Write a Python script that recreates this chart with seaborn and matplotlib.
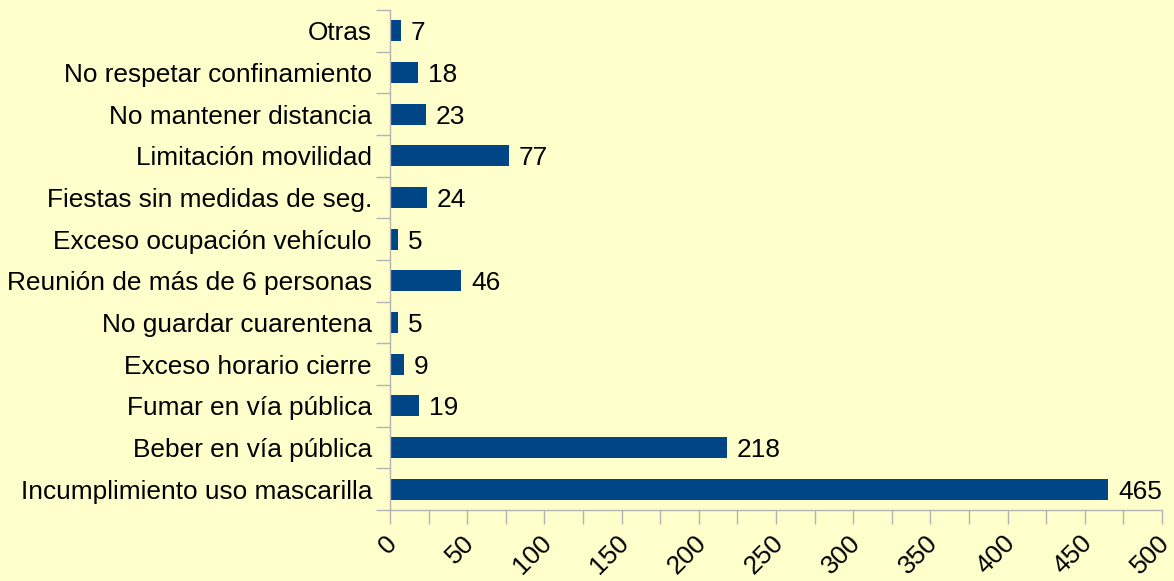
import matplotlib
matplotlib.use("Agg")
import matplotlib.pyplot as plt
import seaborn as sns
import pandas as pd
import numpy as np
from matplotlib.ticker import MultipleLocator, FixedLocator
from matplotlib.transforms import ScaledTranslation

categories = ["Otras", "No respetar confinamiento", "No mantener distancia",
              "Limitación movilidad", "Fiestas sin medidas de seg.",
              "Exceso ocupación vehículo", "Reunión de más de 6 personas",
              "No guardar cuarentena", "Exceso horario cierre",
              "Fumar en vía pública", "Beber en vía pública",
              "Incumplimiento uso mascarilla"]
values = [7, 18, 23, 77, 24, 5, 46, 5, 9, 19, 218, 465]
x_ticks = [0, 50, 100, 150, 200, 250, 300, 350, 400, 450, 500]

df = pd.DataFrame({"cat": categories, "val": values})

sns.set_theme(style="white")
plt.rcParams['font.family'] = ['Liberation Sans', 'DejaVu Sans']

bg = "#FFFFCC"
bar_color = "#004586"
axis_color = "#B3B3B3"
fs = 18.9

fig = plt.figure(figsize=(11.74, 5.81), dpi=100, facecolor=bg)
ax = fig.add_axes([390/1174, 1-510/581, 772/1174, 500/581])
ax.set_facecolor(bg)

sns.barplot(data=df, x="val", y="cat", order=categories, color=bar_color,
            width=0.5, ax=ax, saturation=1, linewidth=0)

for i, v in enumerate(values):
    ax.text(v + 6.5, i, str(v), va="center_baseline", ha="left", fontsize=fs, color="#000000")

ax.set_xlim(0, 500)
ax.set_ylim(len(categories) - 0.5, -0.5)
ax.set_xlabel("")
ax.set_ylabel("")

ax.xaxis.set_minor_locator(MultipleLocator(25))
ax.yaxis.set_minor_locator(FixedLocator(np.arange(-0.5, len(categories), 1.0)))

for s in ["top", "right"]:
    ax.spines[s].set_visible(False)
for s in ["left", "bottom"]:
    ax.spines[s].set_visible(True)
    ax.spines[s].set_color(axis_color)
    ax.spines[s].set_linewidth(1.0)

ax.tick_params(axis="x", which="both", direction="out", length=10, width=1,
               color=axis_color, bottom=True, labelsize=fs, labelcolor="#000000", pad=5)
ax.tick_params(axis="y", which="major", length=0, labelsize=fs, labelcolor="#000000", pad=13)
ax.tick_params(axis="y", which="minor", direction="out", length=10, width=1,
               color=axis_color, left=True)

ax.set_xticks(x_ticks)
ax.set_xticklabels([str(t) for t in x_ticks], rotation=45,
                   ha="right", va="top", rotation_mode="anchor")
shift = ScaledTranslation(-5/100, 0, fig.dpi_scale_trans)
for lbl in ax.get_xticklabels():
    lbl.set_transform(lbl.get_transform() + shift)
for lbl in ax.get_yticklabels():
    lbl.set_verticalalignment("center_baseline")

fig.savefig("out.png", dpi=100, facecolor=bg)
